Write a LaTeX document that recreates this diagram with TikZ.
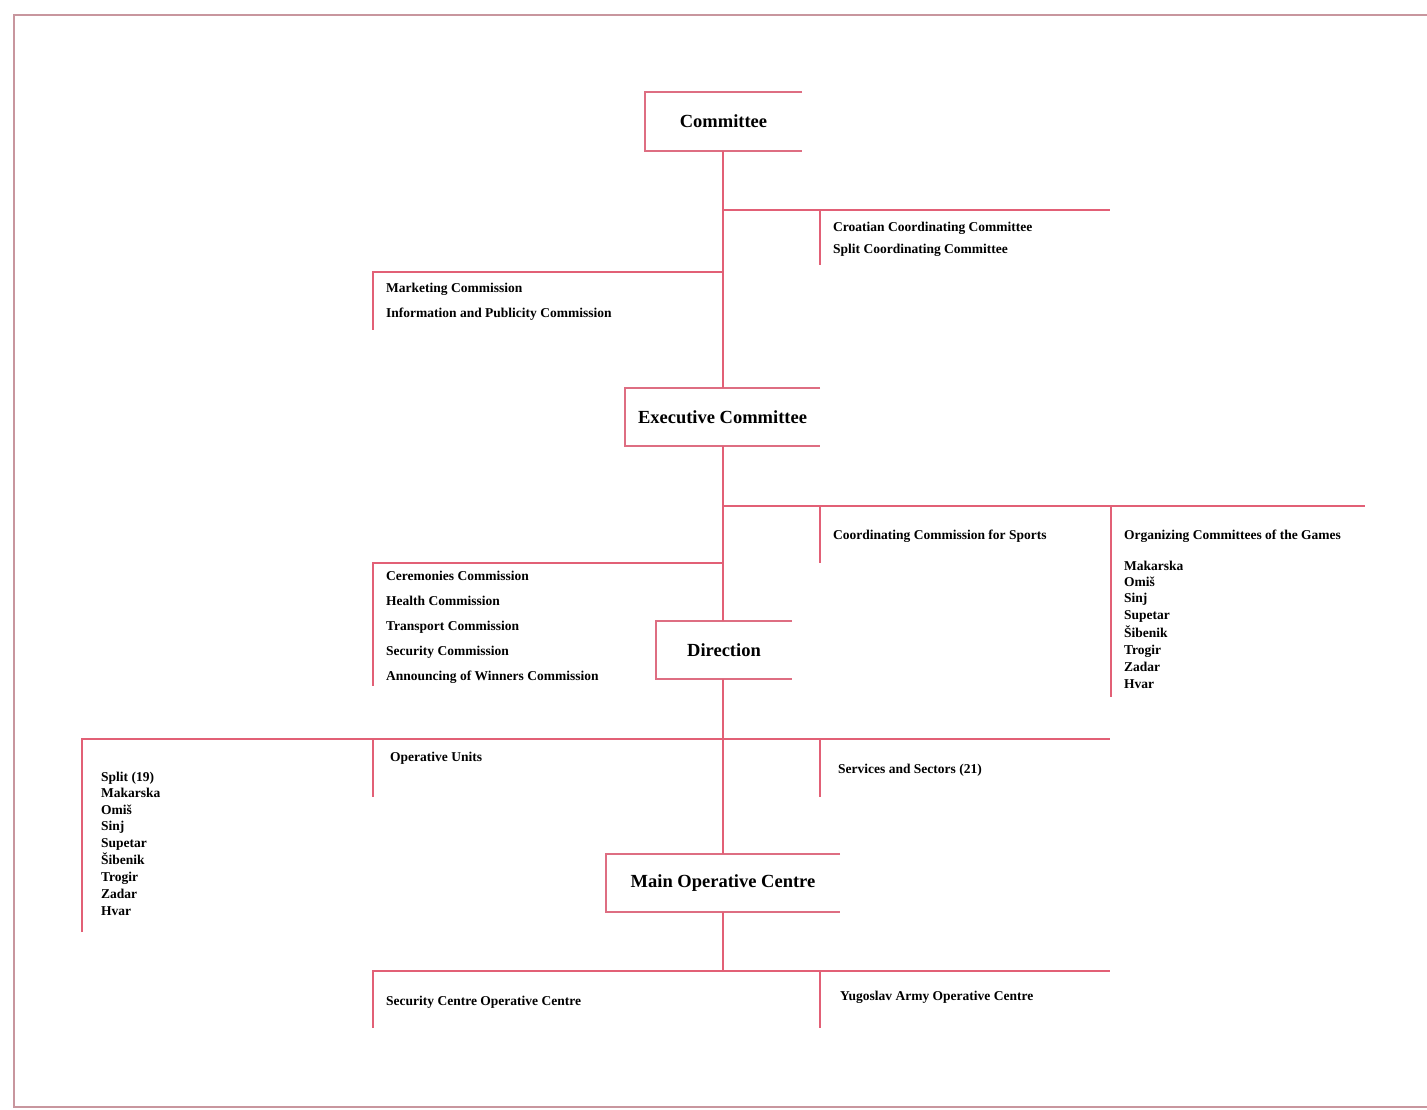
\documentclass[tikz,border=0pt]{standalone}
\usepackage{fontspec}
\setmainfont{Liberation Serif}
\definecolor{conn}{RGB}{226,96,118}
\definecolor{boxln}{RGB}{222,110,130}
\definecolor{frm}{RGB}{200,150,158}
\tikzset{
  conline/.style={draw=conn, line width=1.3pt},
  boxline/.style={draw=boxln, line width=1.6pt},
  frameline/.style={draw=frm, line width=2pt},
  mainbox/.style={draw=none, inner sep=0pt, font=\fontsize{18.5}{21}\selectfont\bfseries},
  lbl/.style={anchor=base west, inner sep=0pt, font=\fontsize{13.5}{16}\selectfont\bfseries},
}
\begin{document}
\begin{tikzpicture}[x=1pt,y=-1pt]
\useasboundingbox (0,0) rectangle (1427,1110);
% frame
\draw[frameline] (1427,15) -- (14,15) -- (14,1107) -- (1427,1107);

% main boxes
\node[mainbox, minimum width=157pt, minimum height=59pt] (com) at (723.5,121.5) {Committee};
\node[mainbox, minimum width=195pt, minimum height=58pt] (exe) at (722.5,417) {Executive Committee};
\node[mainbox, minimum width=136pt, minimum height=58pt] (dir) at (724,650) {Direction};
\node[mainbox, minimum width=234pt, minimum height=58pt] (moc) at (723,883) {Main Operative Centre};
\foreach \n in {com,exe,dir,moc}{
  \draw[boxline] (\n.north east) -- (\n.north west) -- (\n.south west) -- (\n.south east);
}

% spine junctions
\coordinate (j1) at (723,210);
\coordinate (j2) at (723,272);
\coordinate (j3) at (723,506);
\coordinate (j4) at (723,563);
\coordinate (j5) at (723,739);
\coordinate (j6) at (723,971);

\draw[conline] (com.south -| j1) -- (exe.north -| j1);
\draw[conline] (exe.south -| j1) -- (dir.north -| j1);
\draw[conline] (dir.south -| j1) -- (moc.north -| j1);
\draw[conline] (moc.south -| j1) -- (j6);

% branch 1 (right, y=210)
\coordinate (b1e) at (1110,210);
\coordinate (b1a) at (820,210);
\coordinate (b1b) at (820,265);
\draw[conline] (j1) -- (b1e);
\draw[conline] (b1a) -- (b1b);
\node[lbl] (cro) at (833,232) {Croatian Coordinating Committee};
\node[lbl] (spl) at (833,254) {Split Coordinating Committee};

% branch 2 (left, y=272)
\coordinate (b2e) at (373,272);
\coordinate (b2b) at (373,330);
\draw[conline] (j2) -- (b2e) -- (b2b);
\node[lbl] (mkt) at (386,292) {Marketing Commission};
\node[lbl] (inf) at (386,317) {Information and Publicity Commission};

% branch 3 (right, y=506)
\coordinate (b3e) at (1365,506);
\coordinate (b3a) at (820,506);
\coordinate (b3b) at (820,563);
\coordinate (b3c) at (1111,506);
\coordinate (b3d) at (1111,697);
\draw[conline] (j3) -- (b3e);
\draw[conline] (b3a) -- (b3b);
\draw[conline] (b3c) -- (b3d);
\node[lbl] (ccs) at (833,539) {Coordinating Commission for Sports};
\node[lbl] (ocg) at (1124,539) {Organizing Committees of the Games};
\foreach \t/\y [count=\i] in {Makarska/570, Omiš/586, Sinj/602, Supetar/619, Šibenik/637, Trogir/654, Zadar/671, Hvar/688}{
  \node[lbl] (og\i) at (1124,\y) {\t};
}

% branch 4 (left, y=563)
\coordinate (b4e) at (373,563);
\coordinate (b4b) at (373,686);
\draw[conline] (j4) -- (b4e) -- (b4b);
\foreach \t/\y [count=\i] in {Ceremonies Commission/580, Health Commission/605, Transport Commission/630, Security Commission/655, Announcing of Winners Commission/680}{
  \node[lbl] (cm\i) at (386,\y) {\t};
}

% branch 5 (y=739)
\coordinate (b5w) at (82,739);
\coordinate (b5wb) at (82,932);
\coordinate (b5e) at (1110,739);
\coordinate (b5a) at (373,739);
\coordinate (b5ab) at (373,797);
\coordinate (b5c) at (820,739);
\coordinate (b5cb) at (820,797);
\draw[conline] (b5wb) -- (b5w) -- (b5e);
\draw[conline] (b5a) -- (b5ab);
\draw[conline] (b5c) -- (b5cb);
\node[lbl] (opu) at (390,761) {Operative Units};
\node[lbl] (svs) at (838,773) {Services and Sectors (21)};
\foreach \t/\y [count=\i] in {Split (19)/781, Makarska/797, Omiš/814, Sinj/830, Supetar/847, Šibenik/864, Trogir/881, Zadar/898, Hvar/915}{
  \node[lbl] (ou\i) at (101,\y) {\t};
}

% branch 6 (y=971)
\coordinate (b6w) at (373,971);
\coordinate (b6wb) at (373,1028);
\coordinate (b6e) at (1110,971);
\coordinate (b6c) at (820,971);
\coordinate (b6cb) at (820,1028);
\draw[conline] (b6wb) -- (b6w) -- (b6e);
\draw[conline] (b6c) -- (b6cb);
\node[lbl] (scc) at (386,1005) {Security Centre Operative Centre};
\node[lbl] (yac) at (840,1000) {Yugoslav Army Operative Centre};
\end{tikzpicture}
\end{document}
